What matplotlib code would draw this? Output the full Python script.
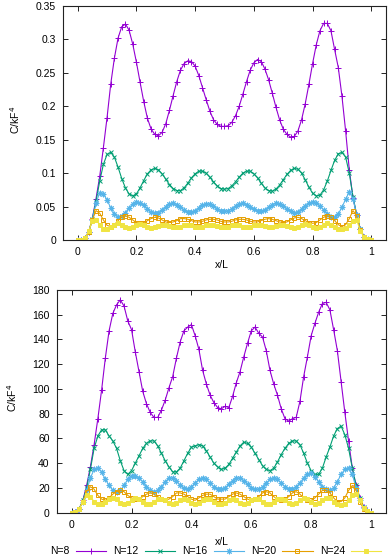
import numpy as np
import matplotlib
matplotlib.use('Agg')
import matplotlib.pyplot as plt

plt.rcParams['font.family'] = ['Liberation Sans', 'DejaVu Sans']

# 采样点 x/L
x_over_L = np.linspace(0, 1, 81)

labels = ['N=8', 'N=12', 'N=16', 'N=20', 'N=24']

# 上图 (C/kF^4)
top_n8 = [0, 0.0005, 0.003, 0.012, 0.032, 0.062, 0.095, 0.138, 0.183, 0.233,
          0.272, 0.302, 0.319, 0.323, 0.314, 0.293, 0.266, 0.236, 0.207, 0.182,
          0.166, 0.158, 0.156, 0.161, 0.174, 0.194, 0.216, 0.237, 0.254, 0.264,
          0.268, 0.267, 0.26, 0.246, 0.228, 0.21, 0.193, 0.18, 0.173, 0.17,
          0.17, 0.171, 0.176, 0.186, 0.2, 0.218, 0.237, 0.254, 0.265, 0.27,
          0.267, 0.256, 0.24, 0.22, 0.199, 0.18, 0.166, 0.158, 0.154, 0.155,
          0.163, 0.18, 0.204, 0.233, 0.264, 0.292, 0.313, 0.324, 0.324, 0.313,
          0.285, 0.258, 0.215, 0.163, 0.105, 0.063, 0.038, 0.016, 0.005, 0.0005,
          0]
top_n12 = [0, 0.0005, 0.003, 0.012, 0.032, 0.058, 0.088, 0.113, 0.128, 0.131,
           0.124, 0.109, 0.092, 0.078, 0.069, 0.066, 0.069, 0.078, 0.089, 0.099,
           0.105, 0.107, 0.105, 0.099, 0.091, 0.083, 0.077, 0.074, 0.074, 0.078,
           0.085, 0.093, 0.099, 0.103, 0.103, 0.1, 0.094, 0.087, 0.081, 0.077,
           0.076, 0.077, 0.081, 0.087, 0.094, 0.1, 0.103, 0.103, 0.099, 0.093,
           0.085, 0.078, 0.074, 0.073, 0.076, 0.082, 0.09, 0.098, 0.104, 0.107,
           0.106, 0.1, 0.09, 0.079, 0.07, 0.066, 0.067, 0.075, 0.088, 0.104,
           0.119, 0.129, 0.131, 0.124, 0.1, 0.065, 0.038, 0.016, 0.005, 0.001,
           0]
top_n16 = [0, 0.0005, 0.003, 0.012, 0.03, 0.055, 0.071, 0.069, 0.06, 0.048,
           0.039, 0.035, 0.036, 0.041, 0.048, 0.054, 0.057, 0.056, 0.052, 0.046,
           0.042, 0.04, 0.041, 0.045, 0.05, 0.054, 0.055, 0.053, 0.049, 0.045,
           0.042, 0.042, 0.044, 0.048, 0.052, 0.054, 0.054, 0.051, 0.047, 0.044,
           0.043, 0.044, 0.047, 0.051, 0.054, 0.055, 0.053, 0.05, 0.046, 0.043,
           0.043, 0.045, 0.049, 0.053, 0.055, 0.054, 0.051, 0.047, 0.043, 0.041,
           0.042, 0.046, 0.051, 0.055, 0.057, 0.056, 0.051, 0.045, 0.039, 0.035,
           0.034, 0.039, 0.049, 0.061, 0.072, 0.062, 0.038, 0.016, 0.005, 0.001,
           0]
top_n20 = [0, 0.0005, 0.003, 0.012, 0.03, 0.044, 0.04, 0.03, 0.022, 0.02,
           0.023, 0.029, 0.034, 0.036, 0.034, 0.03, 0.026, 0.025, 0.026, 0.029,
           0.032, 0.034, 0.033, 0.03, 0.027, 0.026, 0.027, 0.029, 0.032, 0.032,
           0.031, 0.029, 0.027, 0.027, 0.028, 0.03, 0.031, 0.031, 0.03, 0.028,
           0.027, 0.027, 0.028, 0.03, 0.031, 0.031, 0.03, 0.028, 0.027, 0.027,
           0.029, 0.031, 0.032, 0.031, 0.029, 0.027, 0.026, 0.027, 0.03, 0.033,
           0.034, 0.032, 0.029, 0.026, 0.025, 0.026, 0.03, 0.034, 0.036, 0.034,
           0.029, 0.023, 0.02, 0.023, 0.032, 0.044, 0.036, 0.015, 0.005, 0.001,
           0]
top_n24 = [0, 0.0005, 0.003, 0.013, 0.029, 0.03, 0.023, 0.017, 0.016, 0.019,
           0.023, 0.025, 0.023, 0.019, 0.018, 0.019, 0.022, 0.024, 0.023, 0.02,
           0.018, 0.019, 0.021, 0.023, 0.023, 0.021, 0.019, 0.019, 0.02, 0.022,
           0.023, 0.022, 0.02, 0.019, 0.02, 0.022, 0.023, 0.023, 0.021, 0.019,
           0.019, 0.02, 0.022, 0.023, 0.022, 0.02, 0.019, 0.02, 0.022, 0.023,
           0.023, 0.021, 0.019, 0.019, 0.021, 0.023, 0.023, 0.021, 0.019, 0.018,
           0.02, 0.023, 0.024, 0.022, 0.019, 0.018, 0.02, 0.023, 0.025, 0.023,
           0.019, 0.017, 0.016, 0.018, 0.023, 0.028, 0.03, 0.014, 0.004, 0.001,
           0]

# 下图
bot_n8 = [0, 0.5, 3, 10, 22, 37, 55, 76, 99, 125,
          147, 161, 168, 172, 167, 155, 148, 130, 114, 98,
          88, 81, 77, 77, 83, 91, 101, 110, 125, 138,
          147, 150, 152, 143, 132, 115, 104, 95, 89, 85,
          84, 86, 85, 94, 105, 114, 126, 137, 147, 150,
          145, 142, 131, 115, 104, 95, 84, 76, 74, 76,
          77, 90, 110, 126, 143, 153, 162, 169, 170, 164,
          148, 131, 106, 81, 58, 36, 22, 12, 5, 1,
          0]
bot_n12 = [0, 0.5, 3, 10, 20, 35, 52, 62, 67, 67,
           62, 58, 52, 42, 34, 31, 34, 40, 46, 52,
           56, 58, 58, 54, 48, 42, 37, 33, 33, 36,
           42, 48, 53, 54, 55, 54, 50, 45, 40, 37,
           35, 36, 39, 44, 49, 54, 57, 56, 53, 48,
           43, 38, 35, 34, 36, 41, 47, 52, 56, 58,
           58, 55, 48, 40, 34, 31, 31, 36, 45, 53,
           62, 68, 70, 63, 52, 36, 22, 12, 5, 1,
           0]
bot_n16 = [0, 0.5, 3, 9, 18, 28, 35, 36, 33, 27,
           22, 18, 17, 18, 22, 27, 30, 30, 28, 25,
           21, 18, 17, 18, 21, 25, 28, 28, 26, 22,
           20, 19, 21, 24, 27, 28, 27, 24, 21, 19,
           19, 20, 23, 26, 28, 28, 26, 23, 20, 19,
           19, 21, 24, 27, 28, 27, 24, 21, 19, 19,
           21, 24, 28, 31, 32, 29, 25, 21, 19, 18,
           20, 25, 31, 35, 36, 31, 20, 10, 4, 1,
           0]
bot_n20 = [0, 0.5, 3, 9, 17, 21, 19, 14, 11, 10,
           12, 15, 17, 18, 17, 14, 12, 11, 11, 13,
           15, 16, 15, 13, 11, 10, 11, 13, 16, 16,
           15, 13, 11, 10, 12, 14, 15, 15, 13, 11,
           11, 11, 13, 15, 16, 15, 13, 11, 10, 11,
           13, 16, 17, 16, 13, 11, 10, 11, 13, 16,
           17, 15, 12, 10, 10, 12, 15, 18, 18, 16,
           12, 9, 9, 12, 18, 22, 18, 9, 3, 1,
           0]
bot_n24 = [0, 0.5, 3, 9, 14, 13, 9, 7, 7, 9,
           11, 12, 11, 8, 7, 8, 10, 12, 11, 9,
           7, 7, 9, 11, 11, 10, 8, 7, 8, 10,
           11, 10, 8, 7, 8, 10, 11, 11, 9, 7,
           7, 8, 10, 11, 10, 8, 7, 8, 10, 11,
           11, 9, 7, 7, 9, 11, 11, 10, 8, 7,
           8, 10, 12, 11, 9, 7, 8, 10, 12, 12,
           9, 7, 6, 7, 10, 14, 15, 10, 4, 1,
           0]

# gnuplot 默认配色和点型
colors = ['#9400d3', '#009e73', '#56b4e9', '#e69f00', '#f0e442']
markers = ['+', 'x', (8, 2, 0), 's', 's']
fills = ['full', 'full', 'full', 'none', 'full']
msizes = [4.5, 3.5, 4.0, 3.5, 3.0]

fig = plt.figure(figsize=(3.92, 5.57), dpi=100)
ax1 = fig.add_axes([0.1607, 0.5691, 0.824, 0.4201])
ax2 = fig.add_axes([0.1446, 0.0795, 0.8401, 0.3999])

fs = 7.5


def draw_panel(ax, series, yticks, ylabels, ymax):
    lines = []
    for i, y in enumerate(series):
        ln, = ax.plot(x_over_L, y, color=colors[i], lw=0.8, marker=markers[i],
                      ms=msizes[i], mew=0.7, fillstyle=fills[i], label=labels[i])
        lines.append(ln)
    ax.set_xlim(-0.05, 1.05)
    ax.set_ylim(0, ymax)
    ax.set_xticks([0, 0.2, 0.4, 0.6, 0.8, 1])
    ax.set_xticklabels(['0', '0.2', '0.4', '0.6', '0.8', '1'])
    ax.set_yticks(yticks)
    ax.set_yticklabels(ylabels)
    ax.tick_params(direction='in', top=True, right=True, length=3.5,
                   width=0.6, labelsize=fs, pad=5)
    for s in ax.spines.values():
        s.set_linewidth(0.8)
        s.set_color('#222222')
    return lines


handles = draw_panel(ax1, [top_n8, top_n12, top_n16, top_n20, top_n24],
                     [0, 0.05, 0.1, 0.15, 0.2, 0.25, 0.3, 0.35],
                     ['0', '0.05', '0.1', '0.15', '0.2', '0.25', '0.3', '0.35'], 0.35)
draw_panel(ax2, [bot_n8, bot_n12, bot_n16, bot_n20, bot_n24],
           list(range(0, 181, 20)), [str(v) for v in range(0, 181, 20)], 180)

# 坐标轴标签
fig.text(15 / 392, 1 - 120 / 557, 'C/kF$^4$', rotation=90, ha='center', va='center', fontsize=fs)
fig.text(12 / 392, 1 - 398 / 557, 'C/kF$^4$', rotation=90, ha='center', va='center', fontsize=fs)
fig.text(222 / 392, 1 - 265 / 557, 'x/L', ha='center', va='center', fontsize=fs)
fig.text(222 / 392, 1 - 542 / 557, 'x/L', ha='center', va='center', fontsize=fs)

# 底部图例
fig.legend(handles, labels, loc='center left', bbox_to_anchor=(50 / 392, 1 - 551.5 / 557),
           ncol=5, frameon=False, markerfirst=False, fontsize=fs, handlelength=2.9,
           handletextpad=0.6, columnspacing=0.7, borderpad=0, borderaxespad=0)

plt.savefig('out.png', dpi=100)
